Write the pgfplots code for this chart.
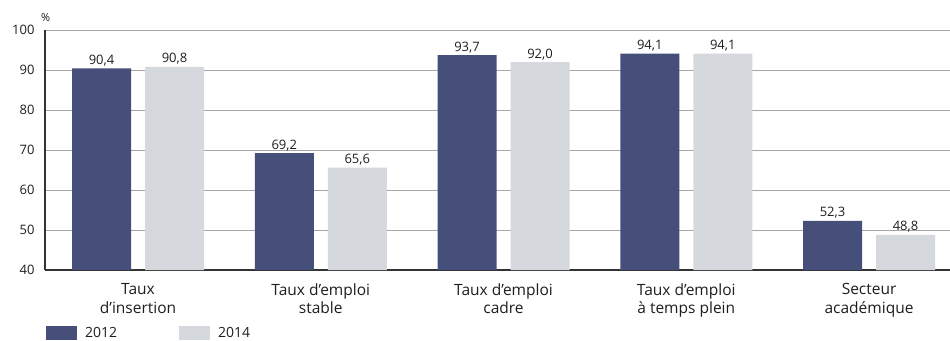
\documentclass[border=0pt]{standalone}
\usepackage{pgfplots}
\pgfplotsset{compat=1.18}
\usepackage{fontspec}
\setmainfont{Open Sans}

\definecolor{navy}{HTML}{464F7A}
\definecolor{lightgrey}{HTML}{D5D8DD}
\definecolor{gridgrey}{HTML}{A6A6A6}
\definecolor{axisdark}{HTML}{333333}
\definecolor{txt}{HTML}{1E1E1E}

\begin{document}
\begin{tikzpicture}
\path[use as bounding box, clip] (0,0) rectangle (950pt,340pt);
\begin{axis}[
  at={(45pt,70pt)}, anchor=south west,
  scale only axis,
  width=905pt, height=240pt,
  ybar,
  bar width=59pt,
  xmin=-0.509, xmax=4.443,
  ymin=40, ymax=100,
  ytick={40,50,...,100},
  xtick={0,1,2,3,4},
  xticklabels={{Taux\\d’insertion},{Taux d’emploi\\stable},{Taux d’emploi\\cadre},{Taux d’emploi\\à temps plein},{Secteur\\académique}},
  xticklabel style={align=center, font=\fontsize{15.5}{18.5}\selectfont, text=txt,
    inner sep=0pt, yshift=-13.5pt},
  yticklabel style={font=\fontsize{13}{15}\selectfont, text=txt, xshift=-7pt},
  /pgf/number format/assume math mode=true,
  major tick length=0pt,
  tick style={draw=none},
  axis x line*=bottom,
  axis y line*=left,
  x axis line style={draw=axisdark, line width=1.8pt, -},
  y axis line style={draw=axisdark, line width=1.3pt, -},
  ymajorgrids,
  grid style={draw=gridgrey, line width=1pt},
  ylabel={\%},
  ylabel style={rotate=-90, at={(axis description cs:0,1)}, anchor=south west,
    inner sep=0pt, xshift=-4pt, yshift=8pt, font=\fontsize{11}{13}\selectfont, text=txt},
  nodes near coords,
  nodes near coords style={font=\fontsize{13}{15}\selectfont, text=txt, anchor=south, inner sep=2pt,
    /pgf/number format/.cd, use comma, fixed, fixed zerofill, precision=1, assume math mode=true},
  legend columns=2,
  legend style={at={(axis description cs:0,0)}, anchor=west, xshift=1pt, yshift=-63pt,
    draw=none, fill=none, inner sep=0pt,
    font=\fontsize{14}{16}\selectfont, text=txt,
    /tikz/every odd column/.append style={column sep=6pt},
    /tikz/every even column/.append style={column sep=60pt}},
  legend cell align=left,
]
\addplot[fill=navy, draw=none, bar shift=-36.5pt,
  legend image code/.code={\fill[navy] (0pt,-7pt) rectangle (31pt,7pt);}]
  coordinates {(0,90.4) (1,69.2) (2,93.7) (3,94.1) (4,52.3)};
\addplot[fill=lightgrey, draw=none, bar shift=36.5pt,
  legend image code/.code={\fill[lightgrey] (0pt,-7pt) rectangle (31pt,7pt);}]
  coordinates {(0,90.8) (1,65.6) (2,92.0) (3,94.1) (4,48.8)};
\legend{2012,2014}
\end{axis}
\end{tikzpicture}
\end{document}
